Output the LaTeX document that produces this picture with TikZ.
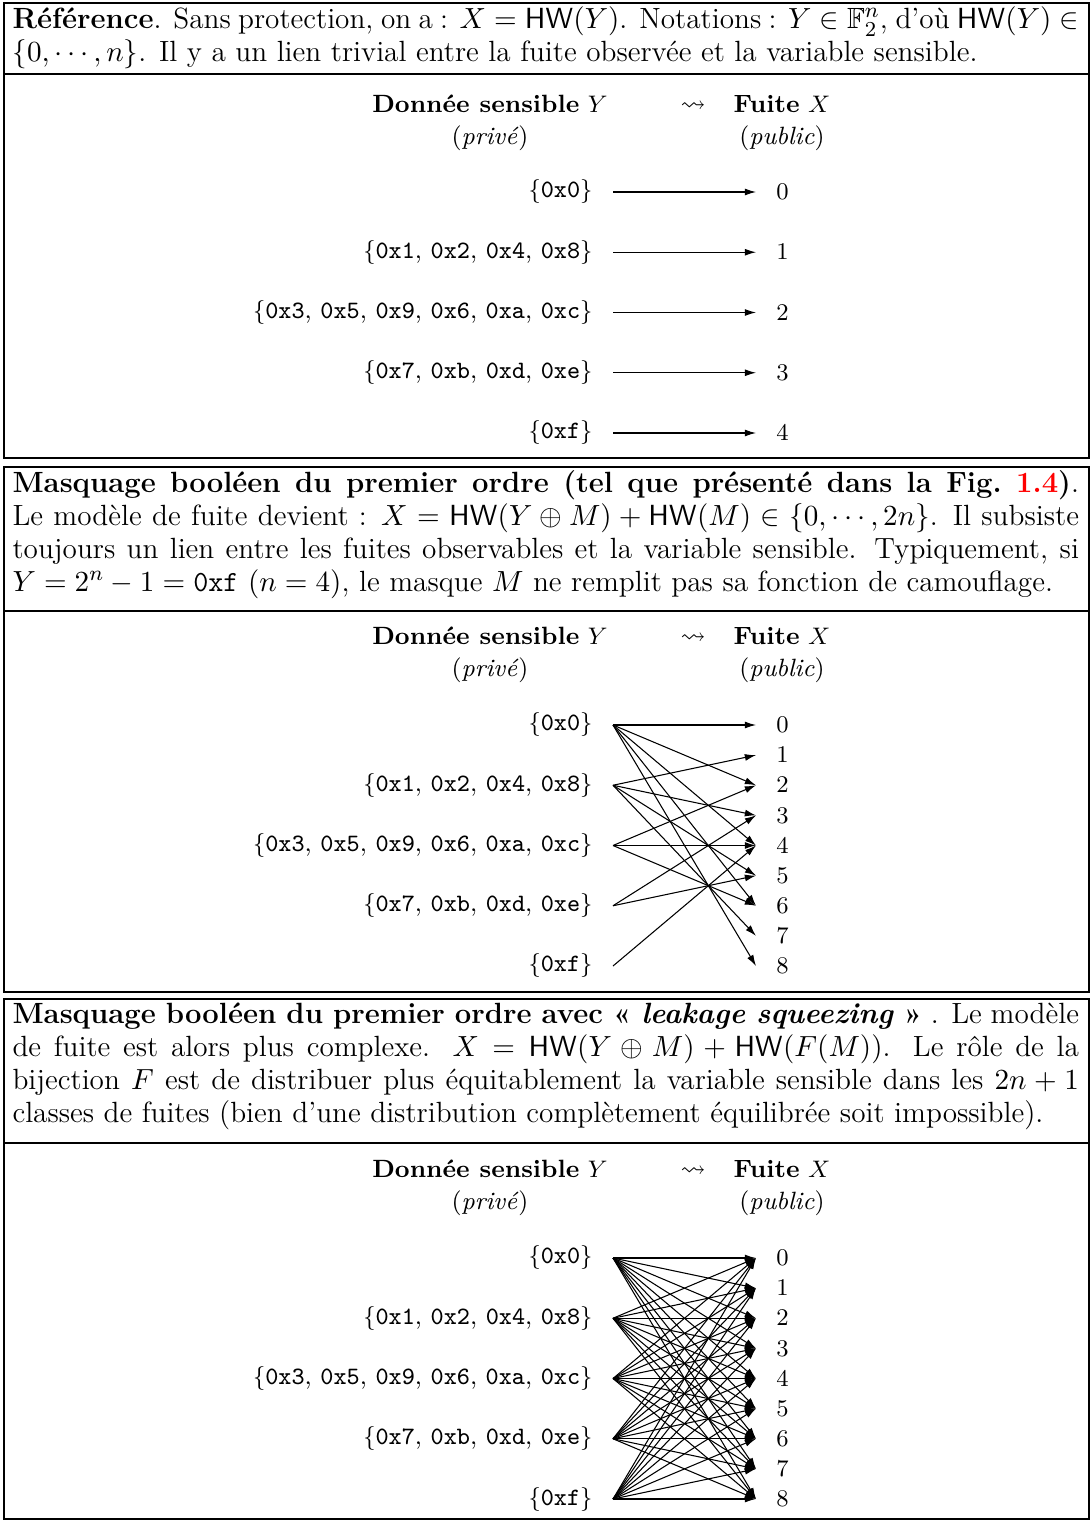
\documentclass[tikz,border=0pt]{standalone}
\usepackage{amssymb}
\usepackage{xcolor}
\usetikzlibrary{positioning, arrows.meta}

\begin{document}
\begin{tikzpicture}[x=0.376pt, y=-0.376pt,
        frame/.style={draw, line width=0.8pt},
        legend/.style={text width=401pt, align=justify, inner sep=0pt,
                    anchor=north west, font=\fontsize{11}{12.4}\selectfont},
        colhead/.style={align=center, font=\fontsize{9.4}{12}\selectfont},
        ynode/.style={anchor=east, inner xsep=7.5pt, font=\fontsize{9.4}{12}\selectfont},
        xnode/.style={anchor=west, inner xsep=7.5pt, font=\fontsize{9.4}{12}\selectfont},
        link/.style={-{Latex[length=4.2pt, width=2.6pt]}, line width=0.4pt}]

        \useasboundingbox (0,0) rectangle (1091,1521);

        % Frames
        \draw[frame] (4,3) rectangle (1089,458);
        \draw[frame] (4,74) -- (1089,74);
        \draw[frame] (4,467) rectangle (1089,992);
        \draw[frame] (4,611) -- (1089,611);
        \draw[frame] (4,999) rectangle (1089,1519);
        \draw[frame] (4,1143) -- (1089,1143);

        % Legends
        \node[legend] (leg1) at (12,6) {\textbf{Référence}. Sans protection, on a : $X=\mathsf{HW}(Y)$. Notations : $Y\in\mathbb{F}_2^n$, d'où $\mathsf{HW}(Y)\in$\linebreak$\{0,\cdots,n\}$. Il y a un lien trivial entre la fuite observée et la variable sensible.};
        \node[legend] (leg2) at (12,470) {\textbf{Masquage booléen du premier ordre (tel que présenté dans la Fig.~\textcolor{red}{1.4})}.\linebreak Le modèle de fuite devient : $X=\mathsf{HW}(Y\oplus M)+\mathsf{HW}(M)\in\{0,\cdots,2n\}$. Il subsiste\linebreak toujours un lien entre les fuites observables et la variable sensible. Typiquement, si\linebreak $Y=2^n-1=\texttt{0xf}$ $(n=4)$, le masque $M$ ne remplit pas sa fonction de camouflage.};
        \node[legend] (leg3) at (12,1002) {\textbf{Masquage booléen du premier ordre avec «~\textit{leakage squeezing}~»} . Le modèle\linebreak de fuite est alors plus complexe. $X=\mathsf{HW}(Y\oplus M)+\mathsf{HW}(F(M))$. Le rôle de la\linebreak bijection $F$ est de distribuer plus équitablement la variable sensible dans les $2n+1$\linebreak classes de fuites (bien d'une distribution complètement équilibrée soit impossible).};

        % Column heads
        \node[colhead] (hy1) at (490,123)  {\textbf{Donnée sensible} $Y$\\(\textit{privé})};
        \node[colhead] (sq1) at (693,107)  {$\leadsto$};
        \node[colhead] (hx1) at (782,123)  {\textbf{Fuite} $X$\\(\textit{public})};
        \node[colhead] (hy2) at (490,655)  {\textbf{Donnée sensible} $Y$\\(\textit{privé})};
        \node[colhead] (sq2) at (693,639)  {$\leadsto$};
        \node[colhead] (hx2) at (782,655)  {\textbf{Fuite} $X$\\(\textit{public})};
        \node[colhead] (hy3) at (490,1188) {\textbf{Donnée sensible} $Y$\\(\textit{privé})};
        \node[colhead] (sq3) at (693,1172) {$\leadsto$};
        \node[colhead] (hx3) at (782,1188) {\textbf{Fuite} $X$\\(\textit{public})};

        % Sensitive values, one set per Hamming weight
        \foreach \s/\y in {a/192, b/725, c/1258} {
          \node[ynode] (\s0) at (613,\y)        {$\{$\texttt{0x0}$\}$};
          \node[ynode] (\s1) at (613,\y+60.25)  {$\{$\texttt{0x1}, \texttt{0x2}, \texttt{0x4}, \texttt{0x8}$\}$};
          \node[ynode] (\s2) at (613,\y+120.5)  {$\{$\texttt{0x3}, \texttt{0x5}, \texttt{0x9}, \texttt{0x6}, \texttt{0xa}, \texttt{0xc}$\}$};
          \node[ynode] (\s3) at (613,\y+180.75) {$\{$\texttt{0x7}, \texttt{0xb}, \texttt{0xd}, \texttt{0xe}$\}$};
          \node[ynode] (\s4) at (613,\y+241)    {$\{$\texttt{0xf}$\}$};
        }

        % Leakage values
        \foreach \k in {0,...,4}
          \node[xnode] (ax\k) at (756,192+60.25*\k) {$\k$};
        \foreach \k in {0,...,8} {
          \node[xnode] (bx\k) at (756,725+30.125*\k)  {$\k$};
          \node[xnode] (cx\k) at (756,1258+30.125*\k) {$\k$};
        }

        % Arrows: no protection
        \foreach \k in {0,...,4}
          \draw[link] (a\k.east) -- (ax\k.west);

        % Arrows: first-order masking
        \foreach \i/\l in {0/{0,2,4,6,8}, 1/{1,3,5,7}, 2/{2,4,6}, 3/{3,5}, 4/{4}}
          \foreach \j in \l
            \draw[link] (b\i.east) -- (bx\j.west);

        % Arrows: leakage squeezing
        \foreach \i in {0,...,4}
          \foreach \j in {0,...,8}
            \draw[link] (c\i.east) -- (cx\j.west);
      \end{tikzpicture}
\end{document}
